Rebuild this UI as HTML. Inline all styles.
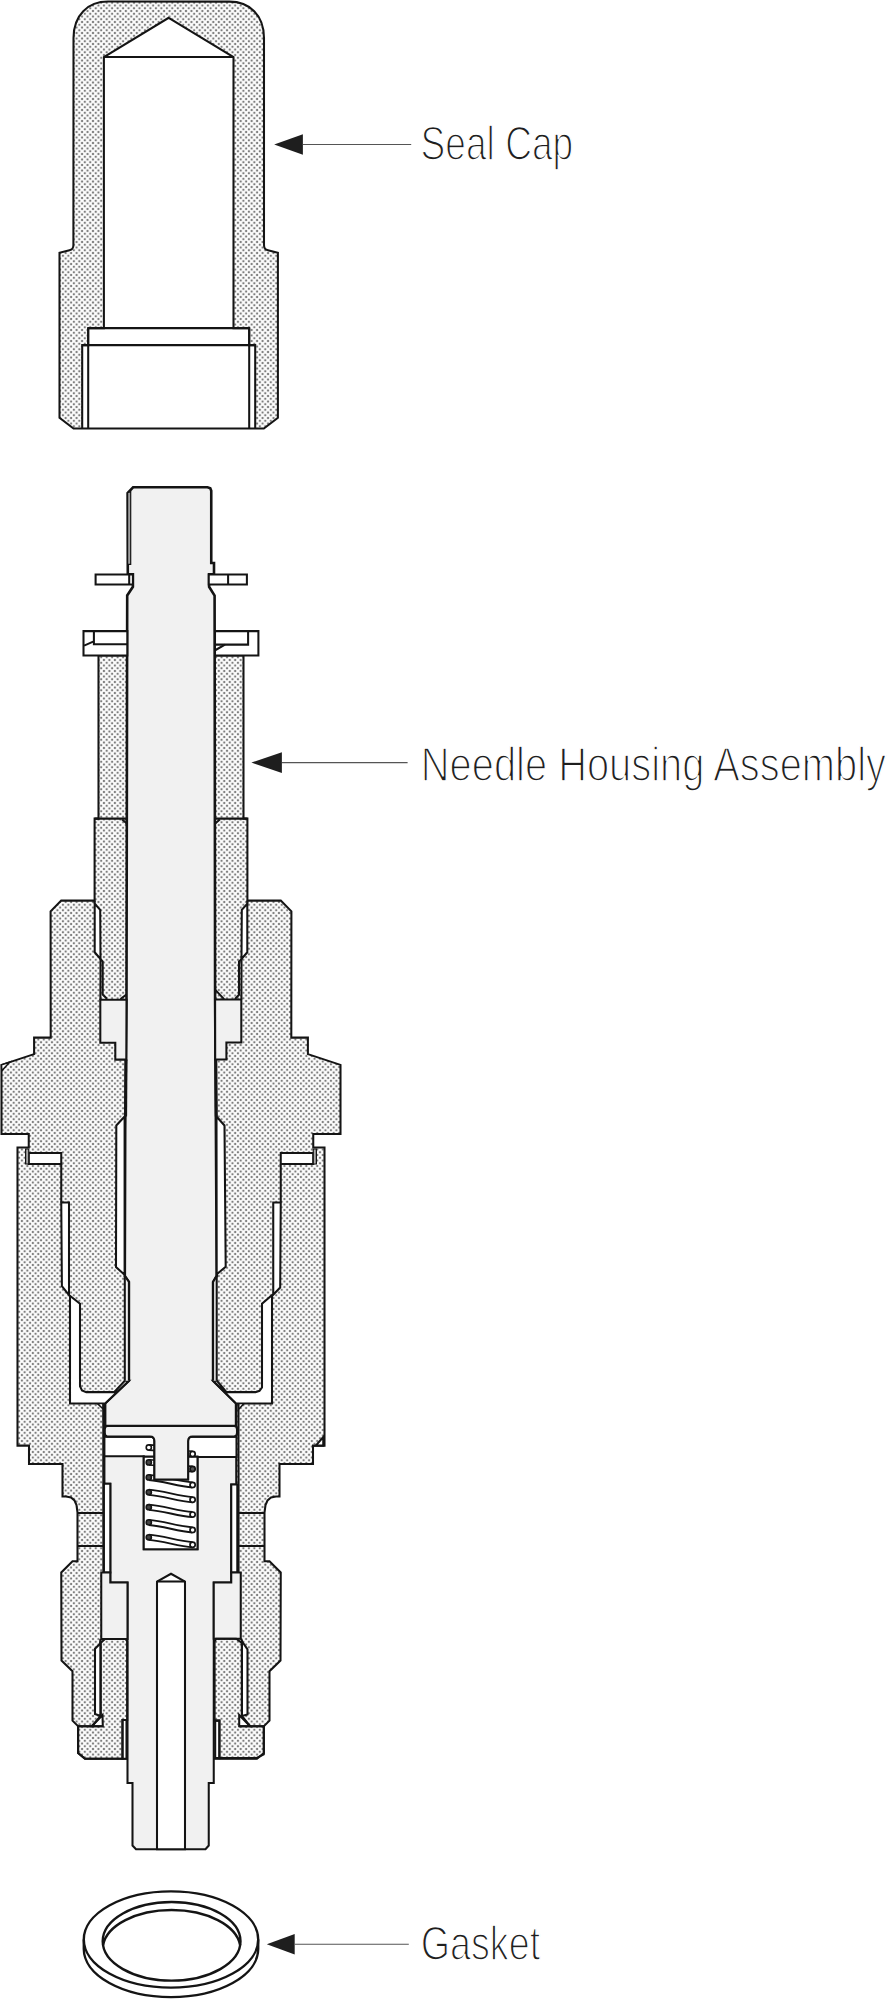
<!DOCTYPE html>
<html><head><meta charset="utf-8"><style>
html,body{margin:0;padding:0;background:#fff;}
svg{display:block;}
</style></head><body>
<svg width="888" height="2000" viewBox="0 0 888 2000">
<defs>
<pattern id="dots" patternUnits="userSpaceOnUse" width="5.47" height="5.5">
<rect width="5.47" height="5.5" fill="#fff"/>
<circle cx="0" cy="0" r="1.2" fill="#7e7e7e"/><circle cx="5.47" cy="0" r="1.2" fill="#7e7e7e"/>
<circle cx="0" cy="5.5" r="1.2" fill="#7e7e7e"/><circle cx="5.47" cy="5.5" r="1.2" fill="#7e7e7e"/>
<circle cx="2.735" cy="2.75" r="1.2" fill="#7e7e7e"/>
</pattern>
</defs>
<rect width="888" height="2000" fill="#fff"/>
<path d="M73.5 38 C73.5 15 88 1.6 108 1.6 L229.4 1.6 C249.4 1.6 264 15 264 38 L264 245 C264 249.3 266 249.8 268 250.2 L277.9 252.7 L277.9 417.8 L263.85 428.5 L73.55 428.5 L59.5 417.8 L59.5 252.7 L69.4 250.2 C71.4 249.8 73.4 249.3 73.4 245 Z M168.70 17.80 L233.50 57.00 L233.50 328.10 L249.20 328.10 L249.20 345.10 L255.20 345.10 L255.20 428.50 L82.20 428.50 L82.20 345.10 L88.20 345.10 L88.20 328.10 L103.90 328.10 L103.90 57.00 Z" fill="url(#dots)" fill-rule="evenodd" stroke="#141414" stroke-width="2.05"/>
<path d="M103.9 57 L233.5 57 M82.2 345.1 L255.2 345.1 M88.2 328.1 L249.2 328.1 M88.2 328.1 V428.5 M249.2 328.1 V428.5" fill="none" stroke="#141414" stroke-width="2.05"/>
<path d="M98.50 655.40 L98.50 818.60 L94.60 818.60 L94.60 900.60 L61.20 900.60 L50.60 911.30 L50.70 1037.60 L34.10 1037.60 L34.10 1054.10 L1.50 1064.90 L1.50 1134.00 L28.75 1134.00 L28.75 1147.50 L17.50 1147.50 L17.50 1445.60 L29.00 1445.60 L29.00 1464.00 L62.50 1464.00 L62.50 1496.50 L66.00 1496.60 L71.00 1497.50 L74.50 1500.50 L76.50 1505.00 L77.50 1512.50 L77.50 1561.25 L72.50 1561.25 L61.25 1572.50 L61.50 1660.60 L72.50 1671.25 L72.50 1720.60 L77.50 1725.60 L78.10 1726.25 L78.10 1753.00 L85.00 1758.75 L122.50 1758.75 L219.50 1758.75 L257.00 1758.75 L263.90 1753.00 L263.90 1726.25 L264.50 1725.60 L269.50 1720.60 L269.50 1671.25 L280.50 1660.60 L280.75 1572.50 L269.50 1561.25 L264.50 1561.25 L264.50 1512.50 L265.50 1505.00 L267.50 1500.50 L271.00 1497.50 L276.00 1496.60 L279.50 1496.50 L279.50 1464.00 L313.00 1464.00 L313.00 1445.60 L324.50 1445.60 L324.50 1147.50 L313.25 1147.50 L313.25 1134.00 L340.50 1134.00 L340.50 1064.90 L307.90 1054.10 L307.90 1037.60 L291.30 1037.60 L291.40 911.30 L280.80 900.60 L247.40 900.60 L247.40 818.60 L243.50 818.60 L243.50 655.40 Z" fill="url(#dots)" stroke="#141414" stroke-width="2.05" stroke-linejoin="miter" />
<path d="M133.10 487.30 L207.50 487.30 L210.30 488.20 L211.25 490.80 L211.25 563.00 L214.00 563.00 L214.00 574.40 L209.10 574.40 L209.10 586.80 L214.60 595.60 L215.10 1000.00 L215.75 1100.00 L216.70 1270.00 L216.70 1276.00 L213.10 1282.00 L213.10 1380.80 L236.10 1403.40 L236.10 1426.00 L105.10 1426.00 L105.10 1403.40 L128.90 1380.80 L128.90 1282.00 L124.80 1276.00 L125.20 1130.00 L126.50 1000.00 L127.20 595.50 L132.90 586.80 L132.90 574.40 L127.80 574.40 L127.60 493.00 Z" fill="#f1f1f1" stroke="#141414" stroke-width="2.6" stroke-linejoin="miter" />
<path d="M127.60 492.60 L130.70 491.60 L130.70 564.40 L127.60 564.40 Z" fill="#a0a0a0" stroke="#141414" stroke-width="1.2" stroke-linejoin="miter" />
<path d="M100.30 999.75 L126.50 999.75 L126.30 1059.60 L115.30 1059.60 L115.30 1042.70 L100.30 1042.70 Z" fill="#f1f1f1" stroke="#141414" stroke-width="2.05" stroke-linejoin="miter" />
<path d="M241.30 999.40 L215.10 999.40 L215.20 1059.40 L226.40 1059.40 L226.40 1042.50 L241.30 1042.50 Z" fill="#f1f1f1" stroke="#141414" stroke-width="2.05" stroke-linejoin="miter" />
<path d="M94.70 903.70 L100.20 909.80 L100.50 958.90 L94.70 952.30 Z" fill="#ffffff" stroke="#141414" stroke-width="2.05" stroke-linejoin="miter" />
<path d="M247.30 903.70 L241.80 909.80 L241.50 958.90 L247.30 952.30 Z" fill="#ffffff" stroke="#141414" stroke-width="2.05" stroke-linejoin="miter" />
<path d="M28.75 1153.00 L61.25 1153.00 L61.25 1164.00 L28.75 1164.00 Z" fill="#ffffff" stroke="#141414" stroke-width="2.05" stroke-linejoin="miter" />
<path d="M313.25 1153.00 L280.75 1153.00 L280.75 1164.00 L313.25 1164.00 Z" fill="#ffffff" stroke="#141414" stroke-width="2.05" stroke-linejoin="miter" />
<path d="M25.60 1149.00 L28.75 1149.00 L28.75 1164.00 L25.60 1164.00 Z" fill="#a8a8a8" stroke="#141414" stroke-width="1.2" stroke-linejoin="miter" />
<path d="M316.40 1149.00 L313.25 1149.00 L313.25 1164.00 L316.40 1164.00 Z" fill="#a8a8a8" stroke="#141414" stroke-width="1.2" stroke-linejoin="miter" />
<path d="M61.25 1202.50 L69.00 1202.50 L69.00 1295.00 L80.00 1303.75 L80.00 1386.25 L82.00 1390.50 L86.25 1392.10 L114.10 1392.10 L124.80 1380.80 L128.90 1380.80 L105.10 1403.40 L70.00 1403.40 L70.00 1296.25 L61.90 1286.25 Z" fill="#ffffff" stroke="#141414" stroke-width="2.05" stroke-linejoin="miter" />
<path d="M280.75 1202.50 L273.25 1202.50 L273.25 1294.00 L262.00 1303.75 L262.00 1387.50 L259.50 1390.80 L255.50 1392.10 L226.50 1392.10 L217.00 1380.80 L213.10 1380.80 L236.10 1403.40 L272.00 1403.40 L272.00 1296.00 L280.20 1287.50 Z" fill="#ffffff" stroke="#141414" stroke-width="2.05" stroke-linejoin="miter" />
<path d="M124.60 1116.50 L116.30 1125.50 L116.00 1267.10 L124.60 1274.80 Z" fill="#ffffff" stroke="#141414" stroke-width="2.05" stroke-linejoin="miter" />
<path d="M216.50 1116.50 L224.50 1125.50 L225.70 1266.70 L216.70 1274.30 Z" fill="#ffffff" stroke="#141414" stroke-width="2.05" stroke-linejoin="miter" />
<path d="M104.40 1436.60 L236.50 1436.60 L236.50 1456.90 L104.40 1456.90 Z" fill="#ffffff" stroke="#141414" stroke-width="2.05" stroke-linejoin="miter" />
<path d="M104.40 1456.25 L143.75 1456.25 L143.75 1549.30 L197.50 1549.30 L197.50 1456.90 L236.25 1456.90 L236.25 1484.40 L231.25 1484.40 L231.25 1582.50 L213.75 1582.50 L213.75 1783.00 L208.75 1783.00 L208.75 1845.50 L205.50 1849.25 L136.00 1849.25 L132.50 1845.50 L132.50 1783.00 L127.50 1783.00 L127.50 1582.50 L110.30 1582.50 L110.30 1483.75 L104.40 1483.75 Z" fill="#f1f1f1" stroke="#141414" stroke-width="2.05" stroke-linejoin="miter" />
<path d="M143.75 1456.60 L197.50 1456.60 L197.50 1549.30 L143.75 1549.30 Z" fill="#ffffff" stroke="#141414" stroke-width="2.05" stroke-linejoin="miter" />
<path d="M107.5 1426 L234 1426 Q237 1426 237 1429.5 L237 1433 Q237 1436.4 234 1436.4 L192.5 1436.4 Q188.1 1436.4 188.1 1441 L188.1 1479.5 L154.4 1479.5 L154.4 1441 Q154.4 1436.4 150 1436.4 L107.5 1436.4 Q104.8 1436.4 104.8 1433 L104.8 1429.5 Q104.8 1426 107.5 1426 Z" fill="#f1f1f1" stroke="#141414" stroke-width="2.05"/>
<path d="M103.90 1483.75 L110.30 1483.75 L110.30 1572.50 L103.90 1572.50 Z" fill="#ffffff" stroke="#141414" stroke-width="2.05" stroke-linejoin="miter" />
<path d="M231.25 1484.40 L237.30 1484.40 L237.30 1572.50 L231.25 1572.50 Z" fill="#ffffff" stroke="#141414" stroke-width="2.05" stroke-linejoin="miter" />
<path d="M101.25 1572.50 L110.30 1572.50 L110.30 1582.50 L127.50 1582.50 L127.50 1639.00 L101.25 1639.00 Z" fill="#f1f1f1" stroke="#141414" stroke-width="2.05" stroke-linejoin="miter" />
<path d="M240.75 1572.50 L231.25 1572.50 L231.25 1582.50 L213.75 1582.50 L213.75 1638.75 L240.75 1638.75 Z" fill="#f1f1f1" stroke="#141414" stroke-width="2.05" stroke-linejoin="miter" />
<path d="M157.00 1849.25 L157.00 1581.50 L171.00 1573.75 L185.00 1581.50 L185.00 1849.25 Z" fill="#ffffff" stroke="#141414" stroke-width="2.05" stroke-linejoin="miter" />
<path d="M157 1581.5 L185 1581.5" stroke="#141414" stroke-width="2.05"/>
<path d="M100.00 1643.75 L95.00 1648.75 L95.00 1714.00 L100.60 1716.00 L100.60 1643.00 Z" fill="#ffffff" stroke="#141414" stroke-width="2.05" stroke-linejoin="miter" />
<path d="M242.00 1641.25 L247.50 1649.40 L247.50 1714.40 L241.90 1716.00 L241.90 1643.00 Z" fill="#ffffff" stroke="#141414" stroke-width="2.05" stroke-linejoin="miter" />
<path d="M122.50 1720.00 L126.50 1720.00 L126.50 1758.75 L122.50 1758.75 Z" fill="#ffffff" stroke="#141414" stroke-width="2.05" stroke-linejoin="miter" />
<path d="M219.40 1720.60 L215.20 1720.60 L215.20 1758.10 L219.40 1758.10 Z" fill="#ffffff" stroke="#141414" stroke-width="2.05" stroke-linejoin="miter" />
<path d="M102.50 1715.00 L102.80 1726.25 L91.90 1726.25 Z" fill="#ffffff" stroke="#141414" stroke-width="2.05" stroke-linejoin="miter" />
<path d="M239.20 1715.00 L239.20 1726.25 L250.10 1726.25 Z" fill="#ffffff" stroke="#141414" stroke-width="2.05" stroke-linejoin="miter" />
<path d="M1.50 1064.90 L9.60 1062.20 L1.80 1070.80 Z" fill="#ffffff" stroke="#141414" stroke-width="1.5" stroke-linejoin="miter" />
<path d="M97.50 1403.60 L103.40 1403.60 L103.40 1409.30 Z" fill="#ffffff" stroke="#141414" stroke-width="1.4" stroke-linejoin="miter" />
<path d="M244.00 1403.60 L238.40 1403.60 L238.40 1409.50 Z" fill="#ffffff" stroke="#141414" stroke-width="1.4" stroke-linejoin="miter" />
<path d="M323.25 1437.00 L323.25 1445.60 L315.75 1445.60 Z" fill="#ffffff" stroke="#141414" stroke-width="2.05" stroke-linejoin="miter" />
<path d="M95.60 574.40 L132.90 574.40 L132.90 584.40 L95.60 584.40 Z" fill="#ffffff" stroke="#141414" stroke-width="2.05" stroke-linejoin="miter" />
<path d="M129.20 574.40 L129.20 584.40" fill="none" stroke="#141414" stroke-width="2.05"/>
<path d="M208.75 574.40 L246.90 574.40 L246.90 584.40 L208.75 584.40 Z" fill="#ffffff" stroke="#141414" stroke-width="2.05" stroke-linejoin="miter" />
<path d="M228.10 574.40 L228.10 584.40" fill="none" stroke="#141414" stroke-width="2.05"/>
<path d="M83.50 631.10 L127.30 631.10 L127.30 655.40 L83.50 655.40 Z" fill="#ffffff" stroke="#141414" stroke-width="2.05" stroke-linejoin="miter" />
<path d="M93.90 631.10 L93.90 644.30 L127.30 644.30" fill="none" stroke="#141414" stroke-width="2.05"/>
<path d="M84.10 645.60 L93.20 641.60" fill="none" stroke="#141414" stroke-width="2.05"/>
<path d="M215.00 631.10 L258.40 631.10 L258.40 655.40 L215.00 655.40 Z" fill="#ffffff" stroke="#141414" stroke-width="2.05" stroke-linejoin="miter" />
<path d="M248.10 631.10 L248.10 644.60 L215.00 644.60" fill="none" stroke="#141414" stroke-width="2.05"/>
<path d="M215.60 650.00 L225.00 644.60" fill="none" stroke="#141414" stroke-width="2.05"/>
<path d="M94.60 818.60 L126.80 818.60" fill="none" stroke="#141414" stroke-width="2.05"/>
<path d="M247.40 818.60 L215.20 818.60" fill="none" stroke="#141414" stroke-width="2.05"/>
<path d="M94.70 900.60 L94.70 903.70" fill="none" stroke="#141414" stroke-width="2.05"/>
<path d="M247.30 900.60 L247.30 903.70" fill="none" stroke="#141414" stroke-width="2.05"/>
<path d="M100.50 958.90 L100.40 999.80" fill="none" stroke="#141414" stroke-width="2.05"/>
<path d="M241.50 958.90 L241.40 999.40" fill="none" stroke="#141414" stroke-width="2.05"/>
<path d="M100.20 958.90 L102.70 961.50 L102.70 994.60 L107.00 998.80" fill="none" stroke="#141414" stroke-width="2.05"/>
<path d="M241.80 958.90 L239.00 961.50 L239.00 994.80 L235.00 999.00" fill="none" stroke="#141414" stroke-width="2.05"/>
<path d="M126.40 994.60 L120.40 999.00" fill="none" stroke="#141414" stroke-width="2.05"/>
<path d="M215.10 989.60 L224.10 999.10" fill="none" stroke="#141414" stroke-width="2.05"/>
<path d="M122.20 819.40 L126.80 823.60" fill="none" stroke="#141414" stroke-width="2.05"/>
<path d="M219.80 819.40 L215.20 823.60" fill="none" stroke="#141414" stroke-width="2.05"/>
<path d="M126.00 1059.60 L125.60 1116.50" fill="none" stroke="#141414" stroke-width="3.0"/>
<path d="M215.80 1059.40 L216.30 1116.50" fill="none" stroke="#141414" stroke-width="3.0"/>
<path d="M61.25 1164.00 L61.25 1202.50" fill="none" stroke="#141414" stroke-width="2.05"/>
<path d="M280.75 1164.00 L280.75 1202.50" fill="none" stroke="#141414" stroke-width="2.05"/>
<path d="M103.20 1403.40 L103.40 1572.50" fill="none" stroke="#141414" stroke-width="2.0"/>
<path d="M238.50 1403.40 L238.60 1572.50" fill="none" stroke="#141414" stroke-width="2.0"/>
<path d="M124.8 1276 L128.9 1282 L128.9 1380.8 L124.8 1380.8 Z M216.7 1276 L213.1 1282 L213.1 1380.8 L216.7 1380.8 Z" fill="#f1f1f1"/>
<path d="M124.80 1276.00 L128.90 1282.00 L128.90 1380.80" fill="none" stroke="#141414" stroke-width="2.05"/>
<path d="M216.70 1276.00 L213.10 1282.00 L213.10 1380.80" fill="none" stroke="#141414" stroke-width="2.05"/>
<path d="M124.80 1276.00 L124.80 1380.80" fill="none" stroke="#141414" stroke-width="2.05"/>
<path d="M216.70 1276.00 L216.70 1380.80" fill="none" stroke="#141414" stroke-width="2.05"/>
<path d="M77.50 1513.00 L103.30 1513.00" fill="none" stroke="#141414" stroke-width="2.05"/>
<path d="M264.50 1513.00 L238.70 1513.00" fill="none" stroke="#141414" stroke-width="2.05"/>
<path d="M77.50 1546.00 L103.30 1546.00" fill="none" stroke="#141414" stroke-width="2.05"/>
<path d="M264.50 1546.00 L238.70 1546.00" fill="none" stroke="#141414" stroke-width="2.05"/>
<path d="M77.50 1726.25 L103.10 1726.25" fill="none" stroke="#141414" stroke-width="2.05"/>
<path d="M264.50 1726.25 L238.90 1726.25" fill="none" stroke="#141414" stroke-width="2.05"/>
<path d="M105.00 1639.00 L125.60 1639.00 L127.20 1641.50 L127.20 1720.00 L122.50 1720.00 L122.50 1758.75 L85.00 1758.75 L78.10 1753.00 L78.10 1726.25 L91.90 1726.25 L100.60 1716.00 L100.60 1643.00 Z" fill="none" stroke="#141414" stroke-width="2.05" stroke-linejoin="miter" />
<path d="M236.20 1638.75 L216.00 1638.75 L214.60 1641.50 L214.60 1720.60 L219.40 1720.60 L219.40 1758.10 L256.25 1758.10 L263.75 1754.40 L263.75 1726.25 L250.10 1726.25 L241.90 1716.00 L241.90 1643.00 Z" fill="none" stroke="#141414" stroke-width="2.05" stroke-linejoin="miter" />
<path d="M100.40 1639.00 L100.00 1643.75" fill="none" stroke="#141414" stroke-width="2.05"/>
<path d="M241.30 1638.75 L242.00 1641.25" fill="none" stroke="#141414" stroke-width="2.05"/>
<path d="M148.8 1444.9 L156.8 1445.4 M148.8 1450.1 L156.8 1450.6 M192.6 1451.3000000000002 L184.6 1450.8000000000002 M192.6 1456.5 L184.6 1456.0" fill="none" stroke="#141414" stroke-width="1.6"/>
<circle cx="148.8" cy="1447.5" r="2.6" fill="#fff" stroke="#141414" stroke-width="1.6"/>
<circle cx="192.6" cy="1453.9" r="2.6" fill="#fff" stroke="#141414" stroke-width="1.7"/>
<path d="M148.8 1459.8000000000002 L156.8 1460.3000000000002 M148.8 1465.0 L156.8 1465.5 M192.6 1466.4 L184.6 1465.9 M192.6 1471.6 L184.6 1471.1" fill="none" stroke="#141414" stroke-width="1.6"/>
<circle cx="148.8" cy="1462.4" r="2.6" fill="#444" stroke="#141414" stroke-width="1.6"/>
<circle cx="192.6" cy="1469.0" r="2.6" fill="#555" stroke="#141414" stroke-width="1.7"/>
<path d="M148.8 1474.8000000000002 C163.8 1475.8000000000002 177.6 1481.3000000000002 192.6 1482.3000000000002 M148.8 1480.0 C163.8 1481.0 177.6 1486.5 192.6 1487.5" fill="none" stroke="#141414" stroke-width="1.8"/>
<circle cx="148.8" cy="1477.4" r="2.6" fill="#444" stroke="#141414" stroke-width="1.6"/>
<circle cx="192.6" cy="1484.9" r="2.6" fill="#fff" stroke="#141414" stroke-width="1.7"/>
<path d="M148.8 1489.7 C163.8 1490.7 177.6 1496.1000000000001 192.6 1497.1000000000001 M148.8 1494.8999999999999 C163.8 1495.8999999999999 177.6 1501.3 192.6 1502.3" fill="none" stroke="#141414" stroke-width="1.8"/>
<circle cx="148.8" cy="1492.3" r="2.6" fill="#444" stroke="#141414" stroke-width="1.6"/>
<circle cx="192.6" cy="1499.7" r="2.6" fill="#fff" stroke="#141414" stroke-width="1.7"/>
<path d="M148.8 1504.6000000000001 C163.8 1505.6000000000001 177.6 1511.0 192.6 1512.0 M148.8 1509.8 C163.8 1510.8 177.6 1516.1999999999998 192.6 1517.1999999999998" fill="none" stroke="#141414" stroke-width="1.8"/>
<circle cx="148.8" cy="1507.2" r="2.6" fill="#444" stroke="#141414" stroke-width="1.6"/>
<circle cx="192.6" cy="1514.6" r="2.6" fill="#fff" stroke="#141414" stroke-width="1.7"/>
<path d="M148.8 1519.8000000000002 C163.8 1520.8000000000002 177.6 1526.3000000000002 192.6 1527.3000000000002 M148.8 1525.0 C163.8 1526.0 177.6 1531.5 192.6 1532.5" fill="none" stroke="#141414" stroke-width="1.8"/>
<circle cx="148.8" cy="1522.4" r="2.6" fill="#444" stroke="#141414" stroke-width="1.6"/>
<circle cx="192.6" cy="1529.9" r="2.6" fill="#fff" stroke="#141414" stroke-width="1.7"/>
<path d="M148.8 1534.7 C163.8 1535.7 177.6 1541.1000000000001 192.6 1542.1000000000001 M148.8 1539.8999999999999 C163.8 1540.8999999999999 177.6 1546.3 192.6 1547.3" fill="none" stroke="#141414" stroke-width="1.8"/>
<circle cx="148.8" cy="1537.3" r="2.6" fill="#444" stroke="#141414" stroke-width="1.6"/>
<circle cx="192.6" cy="1544.7" r="2.6" fill="#fff" stroke="#141414" stroke-width="1.7"/>
<path d="M107.5 1426 L234 1426 Q237 1426 237 1429.5 L237 1433 Q237 1436.4 234 1436.4 L192.5 1436.4 Q188.1 1436.4 188.1 1441 L188.1 1479.5 L154.4 1479.5 L154.4 1441 Q154.4 1436.4 150 1436.4 L107.5 1436.4 Q104.8 1436.4 104.8 1433 L104.8 1429.5 Q104.8 1426 107.5 1426 Z" fill="#f1f1f1" stroke="#141414" stroke-width="2.05"/>
<g fill="none" stroke="#141414" stroke-width="2.4"><path d="M83.8 1939.5 L83.8 1949 A87.2 48.1 0 0 0 258.2 1949 L258.2 1939.5"/><ellipse cx="171" cy="1939.5" rx="87.2" ry="48.1" fill="#fff"/><ellipse cx="171.6" cy="1941.3" rx="68.9" ry="39.3"/><path d="M103.06 1945.3 A68.9 39.3 0 0 1 240.14 1945.3"/></g>
<path d="M274.2 144.5 L302.9 134.2 L302.9 154.8 Z" fill="#1e1e1e"/>
<path d="M302.9 144.5 L411.2 144.5" stroke="#555" stroke-width="1.1"/>
<path d="M251.4 762.6 L281.9 752.2 L281.9 773.0 Z" fill="#1e1e1e"/>
<path d="M281.9 762.6 L407.6 762.6" stroke="#555" stroke-width="1.1"/>
<path d="M266.8 1944.2 L294.7 1934.0 L294.7 1954.4 Z" fill="#1e1e1e"/>
<path d="M294.7 1944.2 L408.8 1944.2" stroke="#555" stroke-width="1.1"/>
<text transform="translate(420.6 160.3) scale(1 1.1)" x="0" y="0" textLength="152.6" lengthAdjust="spacingAndGlyphs" font-family="Liberation Sans" font-size="44" fill="#1e1e1e" stroke="#fff" stroke-width="1.5">Seal Cap</text>
<text transform="translate(420.8 781.2) scale(1 1.1)" x="0" y="0" textLength="465.2" lengthAdjust="spacingAndGlyphs" font-family="Liberation Sans" font-size="44" fill="#1e1e1e" stroke="#fff" stroke-width="1.5">Needle Housing Assembly</text>
<text transform="translate(420.8 1960.2) scale(1 1.1)" x="0" y="0" textLength="119.3" lengthAdjust="spacingAndGlyphs" font-family="Liberation Sans" font-size="44" fill="#1e1e1e" stroke="#fff" stroke-width="1.5">Gasket</text>
</svg>
</body></html>
